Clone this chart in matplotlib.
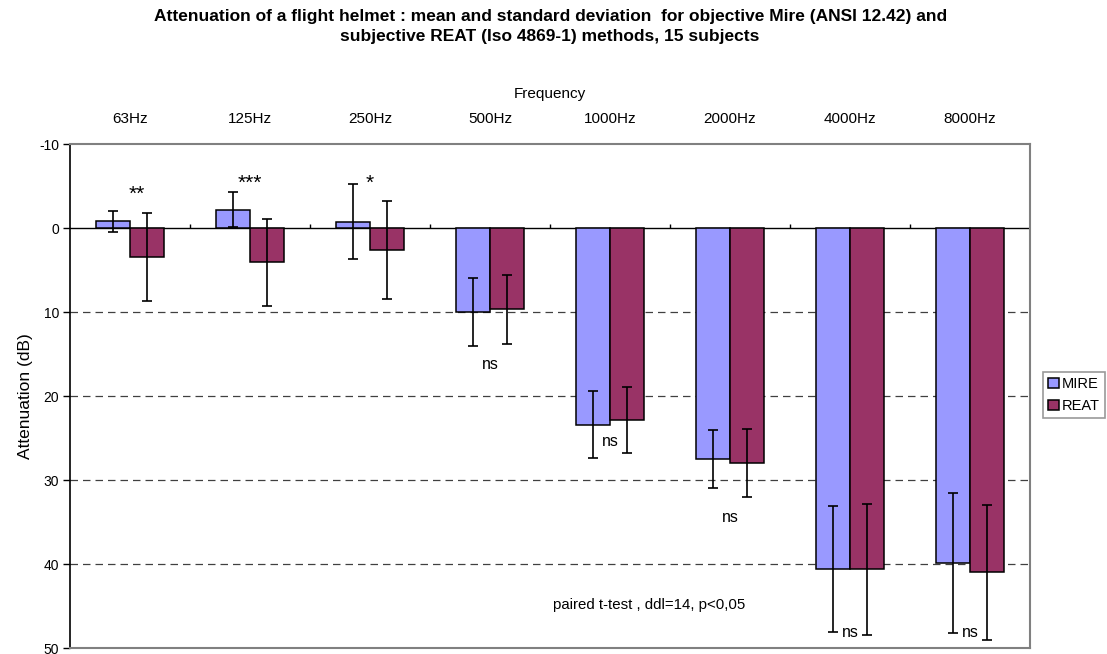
import matplotlib
matplotlib.use("Agg")
import matplotlib.pyplot as plt
import numpy as np

plt.rcParams['font.family'] = ['Liberation Sans', 'DejaVu Sans']
plt.rcParams['axes.unicode_minus'] = False

categories = ["63Hz", "125Hz", "250Hz", "500Hz", "1000Hz", "2000Hz", "4000Hz", "8000Hz"]
mire_mean = [-0.8, -2.2, -0.75, 10.0, 23.4, 27.5, 40.6, 39.9]
mire_sd = [1.25, 2.07, 4.43, 4.1, 4.0, 3.5, 7.5, 8.3]
reat_mean = [3.45, 4.1, 2.62, 9.7, 22.86, 28.0, 40.6, 41.0]
reat_sd = [5.28, 5.14, 5.87, 4.13, 3.9, 4.05, 7.8, 8.0]
signif = ["**", "***", "*", "ns", "ns", "ns", "ns", "ns"]
signif_y = [-4.0, -5.3, -5.3, 16.2, 25.4, 34.5, 48.2, 48.2]
signif_dx = [0.06, 0.0, 0.0, 0.0, 0.0, 0.0, 0.0, 0.0]
note = "paired t-test , ddl=14, p<0,05"

W, H = 1107, 654
fig = plt.figure(figsize=(W / 100, H / 100), dpi=100)
ax = fig.add_axes([70 / W, (H - 648) / H, 960 / W, 504 / H])

x = np.arange(len(categories))
bw = 0.283
c_mire = "#9999FF"
c_reat = "#993366"

ax.bar(x - bw / 2, mire_mean, bw, color=c_mire, edgecolor="black", linewidth=1.1, label="MIRE", zorder=3)
ax.bar(x + bw / 2, reat_mean, bw, color=c_reat, edgecolor="black", linewidth=1.1, label="REAT", zorder=3)
ax.errorbar(x - bw / 2, mire_mean, yerr=mire_sd, fmt="none", ecolor="black", elinewidth=1.2,
            capsize=3.4, capthick=1.2, zorder=4)
ax.errorbar(x + bw / 2, reat_mean, yerr=reat_sd, fmt="none", ecolor="black", elinewidth=1.2,
            capsize=3.4, capthick=1.2, zorder=4)

ax.set_xlim(-0.5, len(categories) - 0.5)
ax.set_ylim(50, -10)

# gridlines
for g in [10, 20, 30, 40]:
    ax.axhline(g, color="black", linestyle=(0, (6, 4)), linewidth=0.9, alpha=0.75, zorder=1)
ax.axhline(0, color="black", linewidth=1.0, zorder=2)
ax.vlines(x[:-1] + 0.5, -0.5, 0, color="black", linewidth=1.0, zorder=2)

ax.set_yticks([-10, 0, 10, 20, 30, 40, 50])
ax.tick_params(axis="y", labelsize=10, length=5, width=1.0, direction="out", pad=3)
ax.set_ylabel("Attenuation (dB)", fontsize=12.5, labelpad=4)

ax.xaxis.tick_top()
ax.xaxis.set_label_position("top")
ax.set_xticks(x)
ax.set_xticklabels(categories, fontsize=11)
ax.tick_params(axis="x", length=0, pad=13)
ax.set_xlabel("Frequency", fontsize=11, labelpad=10)

for s in ["top", "right", "bottom"]:
    ax.spines[s].set_color("#808080")
    ax.spines[s].set_linewidth(1.5)
ax.spines["left"].set_color("black")
ax.spines["left"].set_linewidth(1.2)

for i, (t, yy) in enumerate(zip(signif, signif_y)):
    fs = 15 if t != "ns" else 11.5
    ax.text(x[i] + signif_dx[i], yy, t, ha="center", va="center", fontsize=fs, zorder=5)

ax.text(4.33, 44.9, note, ha="center", va="center", fontsize=10.8, zorder=5)

fig.text(0.497, 1 - 16 / H, "Attenuation of a flight helmet : mean and standard deviation  for objective Mire (ANSI 12.42) and",
         ha="center", va="center", fontsize=12.5, fontweight="bold")
fig.text(0.497, 1 - 36 / H, "subjective REAT (Iso 4869-1) methods, 15 subjects",
         ha="center", va="center", fontsize=12.5, fontweight="bold")

leg = fig.legend(loc="upper left", bbox_to_anchor=(1043 / W, 1 - 372 / H), fontsize=10.5,
                 frameon=True, fancybox=False, edgecolor="#808080", handlelength=0.75,
                 handleheight=0.75, handletextpad=0.2, borderpad=0.35, labelspacing=0.55,
                 borderaxespad=0)
leg.get_frame().set_linewidth(1.2)

fig.savefig("out.png", dpi=100)
